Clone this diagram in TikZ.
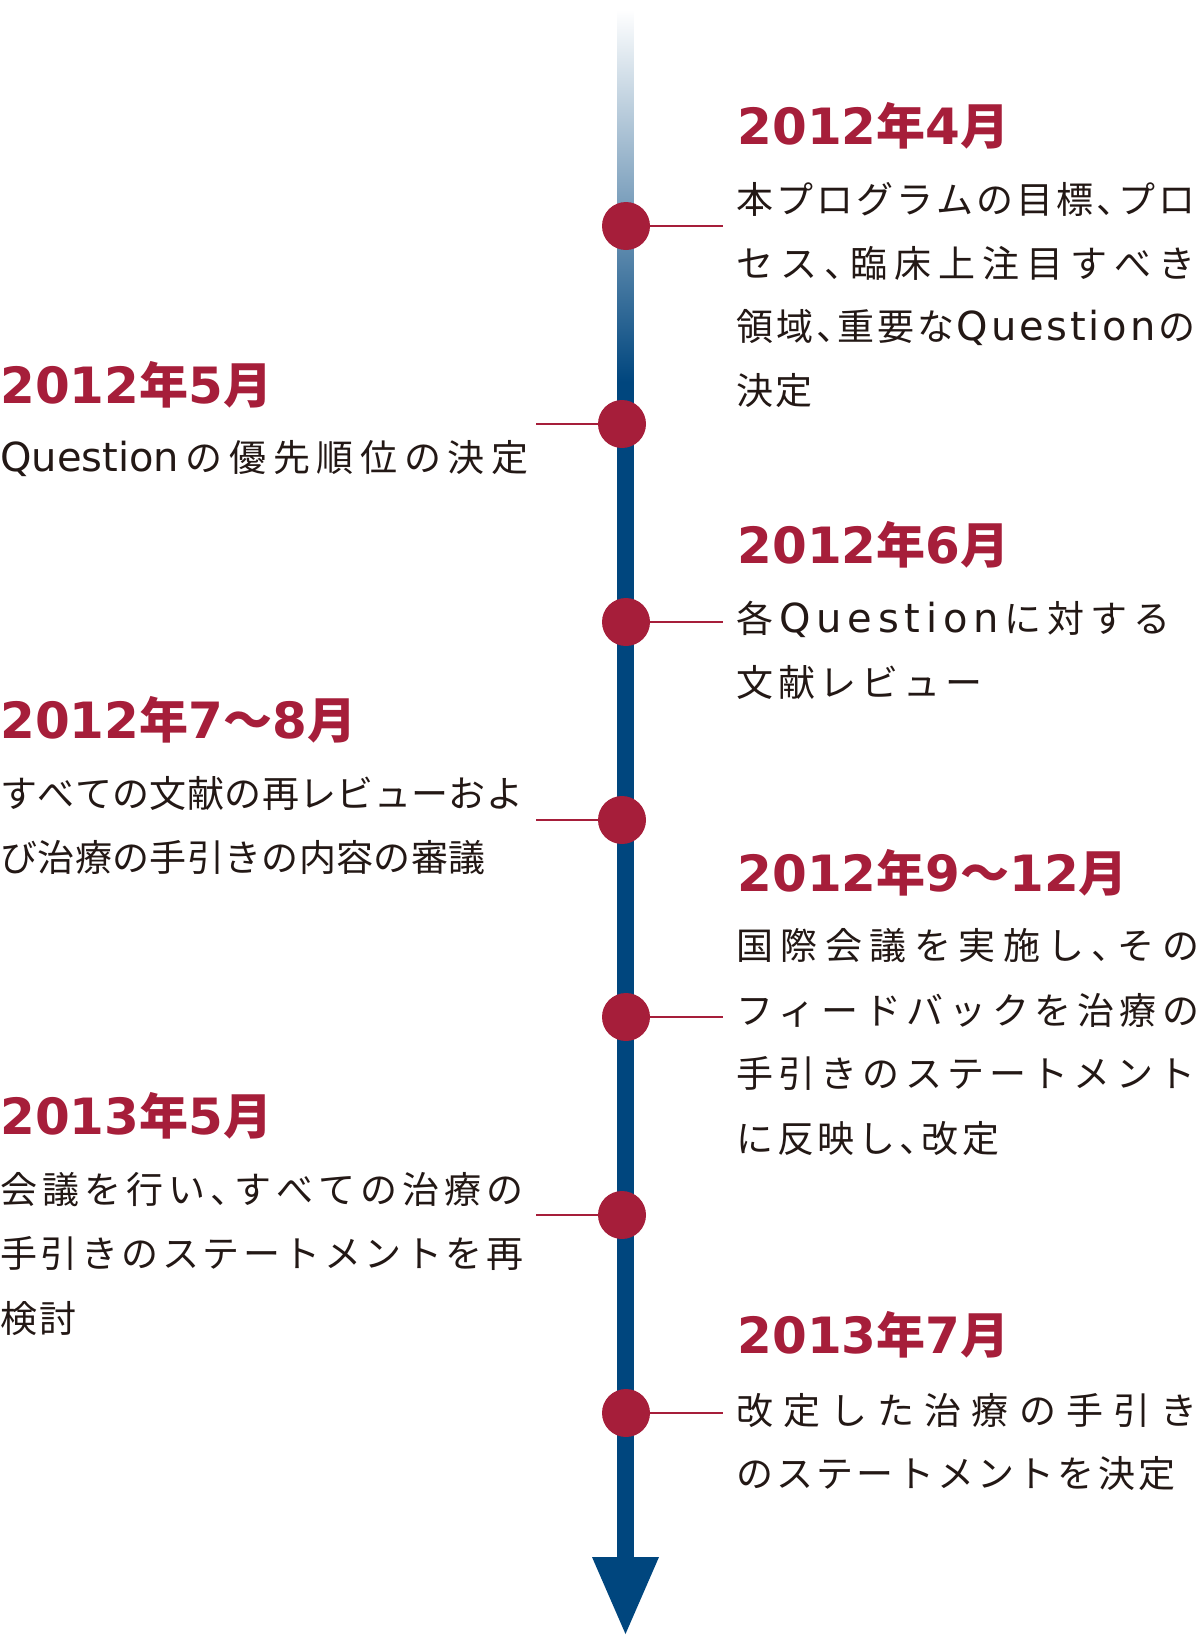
\documentclass[tikz,border=0pt]{standalone}
\usepackage{fontspec}
\newfontfamily\jpfont{Noto Sans CJK JP}
\newfontfamily\jpfontp[CharacterWidth=AlternateProportional]{Noto Sans CJK JP}
\newfontfamily\latfont{DejaVu Sans}
\newlength\px
\setlength\px{0.5pt}
\definecolor{tlred}{HTML}{A61E3A}
\definecolor{tlblue}{HTML}{00467E}
\definecolor{txt}{HTML}{231815}
\pgfdeclareverticalshading{tlfade}{100bp}{color(0bp)=(tlblue); color(63bp)=(tlblue); color(75bp)=(white); color(100bp)=(white)}
\newcommand\bodyfont{\jpfont\fontsize{18.5pt}{18.5pt}\selectfont\color{txt}}
\newcommand\La{\latfont\fontsize{20pt}{20pt}\selectfont}
\newcommand\tn{{\addfontfeature{CharacterWidth=AlternateHalf}、}}
\newcommand\hnum{\latfont\bfseries\fontsize{25pt}{25pt}\selectfont}
\newcommand\hjp{\jpfontp\bfseries\fontsize{24.5pt}{24.5pt}\selectfont}
\newcommand\myY{{\hjp 年}}
\newcommand\myM{{\hjp 月}}
\newcommand\myT{{\hjp ～}}
\ExplSyntaxOn
\NewDocumentCommand \spr { m m }
 {
  \makebox[#1][s]
   {
    \bool_set_true:N \l_tmpa_bool
    \tl_map_inline:nn {#2}
     {
      \bool_if:NTF \l_tmpa_bool
       { \bool_set_false:N \l_tmpa_bool }
       { \hfill }
      {##1}
     }
   }
 }
\ExplSyntaxOff
\begin{document}
\begin{tikzpicture}[x=0.5pt,y=-0.5pt,
  head/.style={anchor=base west, inner sep=0pt, text=tlred, font=\hnum},
  body/.style={anchor=base west, inner sep=0pt, font=\bodyfont},
  dot/.style={circle, fill=tlred, minimum size=24pt, inner sep=0pt},
  conn/.style={draw=tlred, line width=0.6pt}]
\useasboundingbox (0,0) rectangle (1200,1635);
\fill[white] (0,0) rectangle (1200,1635);
% timeline
\shade[shading=tlfade] (617.5,10) rectangle (633.5,1560);
\fill[tlblue] (592,1557) -- (659,1557) -- (625.5,1634) -- cycle;
% dots
\node[dot] (d1) at (626,226) {};
\node[dot] (d2) at (622,424) {};
\node[dot] (d3) at (626,622) {};
\node[dot] (d4) at (622,820) {};
\node[dot] (d5) at (626,1017) {};
\node[dot] (d6) at (622,1215) {};
\node[dot] (d7) at (626,1413) {};
% connector ends
\coordinate (e1) at (723,226);
\coordinate (e2) at (536,424);
\coordinate (e3) at (723,622);
\coordinate (e4) at (536,820);
\coordinate (e5) at (723,1017);
\coordinate (e6) at (536,1215);
\coordinate (e7) at (723,1413);
\foreach \i in {1,...,7} {\draw[conn] (d\i) -- (e\i);}
% 2012年4月
\node[head] (h1) at (737,144) {2012\myY 4\myM};
\node[body] (t1a) at (736,213) {\spr{459\px}{本プログラムの目標\tn プロ}};
\node[body] (t1b) at (736,277) {\spr{459\px}{セス\tn 臨床上注目すべき}};
\node[body] (t1c) at (736,340) {\spr{459\px}{領域\tn 重要な{\La Q}{\La u}{\La e}{\La s}{\La t}{\La i}{\La o}{\La n}の}};
\node[body] (t1d) at (736,404) {\spr{76\px}{決定}};
% 2012年5月
\node[head] (h2) at (0,403) {2012\myY 5\myM};
\node[body] (t2a) at (0,471) {\spr{528\px}{{\La Question}の優先順位の決定}};
% 2012年6月
\node[head] (h3) at (737,563) {2012\myY 6\myM};
\node[body] (t3a) at (736,632) {\spr{434\px}{各{\La Q}{\La u}{\La e}{\La s}{\La t}{\La i}{\La o}{\La n}に対する}};
\node[body] (t3b) at (736,696) {\spr{246\px}{文献レビュー}};
% 2012年7～8月
\node[head] (h4) at (0,738) {2012\myY 7\myT 8\myM};
\node[body] (t4a) at (0,807) {\spr{523\px}{すべての文献の再レビューおよ}};
\node[body] (t4b) at (0,871) {\spr{485\px}{び治療の手引きの内容の審議}};
% 2012年9～12月
\node[head] (h5) at (737,891) {2012\myY 9\myT 12\myM};
\node[body] (t5a) at (736,959) {\spr{463\px}{国際会議を実施し\tn その}};
\node[body] (t5b) at (736,1024) {\spr{463\px}{フィードバックを治療の}};
\node[body] (t5c) at (736,1087) {\spr{459\px}{手引きのステートメント}};
\node[body] (t5d) at (736,1152) {\spr{263\px}{に反映し\tn 改定}};
% 2013年5月
\node[head] (h6) at (0,1134) {2013\myY 5\myM};
\node[body] (t6a) at (0,1203) {\spr{523\px}{会議を行い\tn すべての治療の}};
\node[body] (t6b) at (0,1267) {\spr{523\px}{手引きのステートメントを再}};
\node[body] (t6c) at (0,1332) {\spr{76\px}{検討}};
% 2013年7月
\node[head] (h7) at (737,1353) {2013\myY 7\myM};
\node[body] (t7a) at (736,1424) {\spr{461\px}{改定した治療の手引き}};
\node[body] (t7b) at (736,1487) {\spr{439\px}{のステートメントを決定}};
\end{tikzpicture}
\end{document}
